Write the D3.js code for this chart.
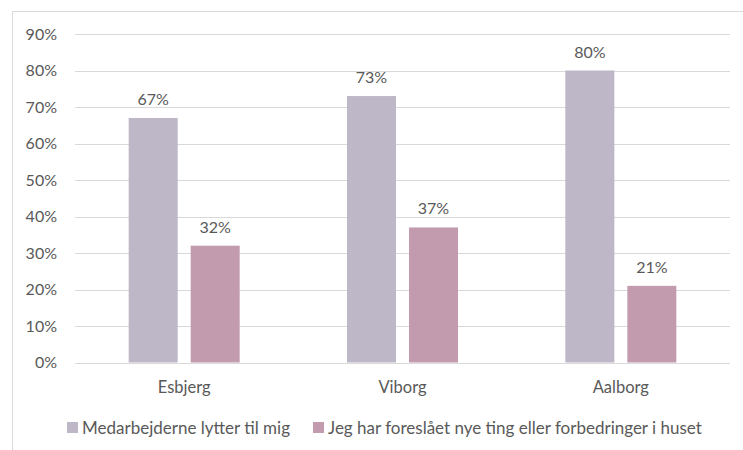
<!DOCTYPE html>
<html>
<head>
<meta charset="utf-8">
<script src="https://cdn.jsdelivr.net/npm/d3@7"></script>
<style>
  html, body { margin: 0; padding: 0; background: #fff; }
  svg text { font-family: Lato, "Open Sans", "Liberation Sans", sans-serif; fill: #595959; }
</style>
</head>
<body>
<svg id="chart" width="743" height="450"></svg>
<script>
// Survey results per city (share of respondents)
const cities = ["Esbjerg", "Viborg", "Aalborg"];
const seriesNames = [
  "Medarbejderne lytter til mig",
  "Jeg har foreslået nye ting eller forbedringer i huset"
];
const listenedTo = [67, 73, 80];
const suggested = [32, 37, 21];
const yTicks = [0, 10, 20, 30, 40, 50, 60, 70, 80, 90];
const colors = ["#bdb7c7", "#c29baf"];

const svg = d3.select("#chart");

// Chart frame (top and left edges visible)
svg.append("path")
  .attr("d", "M12.5,450 V11.5 H743")
  .attr("fill", "none")
  .attr("stroke", "#d9d9d9")
  .attr("stroke-width", 1);

const margin = { left: 75, right: 13, top: 34, bottom: 87.5 };
const W = 743, H = 450;

const x = d3.scaleBand().domain(cities).range([margin.left, W - margin.right]);
const y = d3.scaleLinear().domain([0, 90]).range([H - margin.bottom, margin.top]);

// Gridlines
svg.append("g").selectAll("line").data(yTicks).join("line")
  .attr("x1", margin.left).attr("x2", W - margin.right)
  .attr("y1", d => Math.round(y(d)) + 0.5).attr("y2", d => Math.round(y(d)) + 0.5)
  .attr("stroke", "#d9d9d9").attr("stroke-width", 1.2);

// Y-axis labels
svg.append("g").selectAll("text").data(yTicks).join("text")
  .attr("x", 57).attr("y", d => y(d))
  .attr("dy", "0.36em")
  .attr("text-anchor", "end")
  .attr("font-size", 16)
  .text(d => d + "%");

// Bars: two series side by side inside each city band
const barW = 49, gap = 13;
const series = [listenedTo, suggested];
const groups = svg.append("g").selectAll("g").data(cities).join("g")
  .attr("transform", d => `translate(${x(d) + x.bandwidth() / 2 - (2 * barW + gap) / 2},0)`);

groups.each(function(city, i) {
  const g = d3.select(this);
  series.forEach((vals, s) => {
    const bx = s * (barW + gap);
    g.append("rect")
      .attr("x", bx).attr("width", barW)
      .attr("y", y(vals[i])).attr("height", y(0) - y(vals[i]))
      .attr("fill", colors[s]);
    g.append("text")
      .attr("x", bx + barW / 2).attr("y", y(vals[i]) - 13)
      .attr("text-anchor", "middle")
      .attr("font-size", 16)
      .text(vals[i] + "%");
  });
});

// Category labels
svg.append("g").selectAll("text").data(cities).join("text")
  .attr("x", d => x(d) + x.bandwidth() / 2)
  .attr("y", 393)
  .attr("text-anchor", "middle")
  .attr("font-size", 16.5)
  .text(d => d);

// Legend
const legendItems = [
  { name: seriesNames[0], color: colors[0], x: 67 },
  { name: seriesNames[1], color: colors[1], x: 313 }
];
const lg = svg.append("g").selectAll("g").data(legendItems).join("g")
  .attr("transform", d => `translate(${d.x},0)`);
lg.append("rect").attr("x", 0).attr("y", 422).attr("width", 11).attr("height", 11).attr("fill", d => d.color);
lg.append("text").attr("x", 15).attr("y", 434).attr("font-size", 17).text(d => d.name);
</script>
</body>
</html>
